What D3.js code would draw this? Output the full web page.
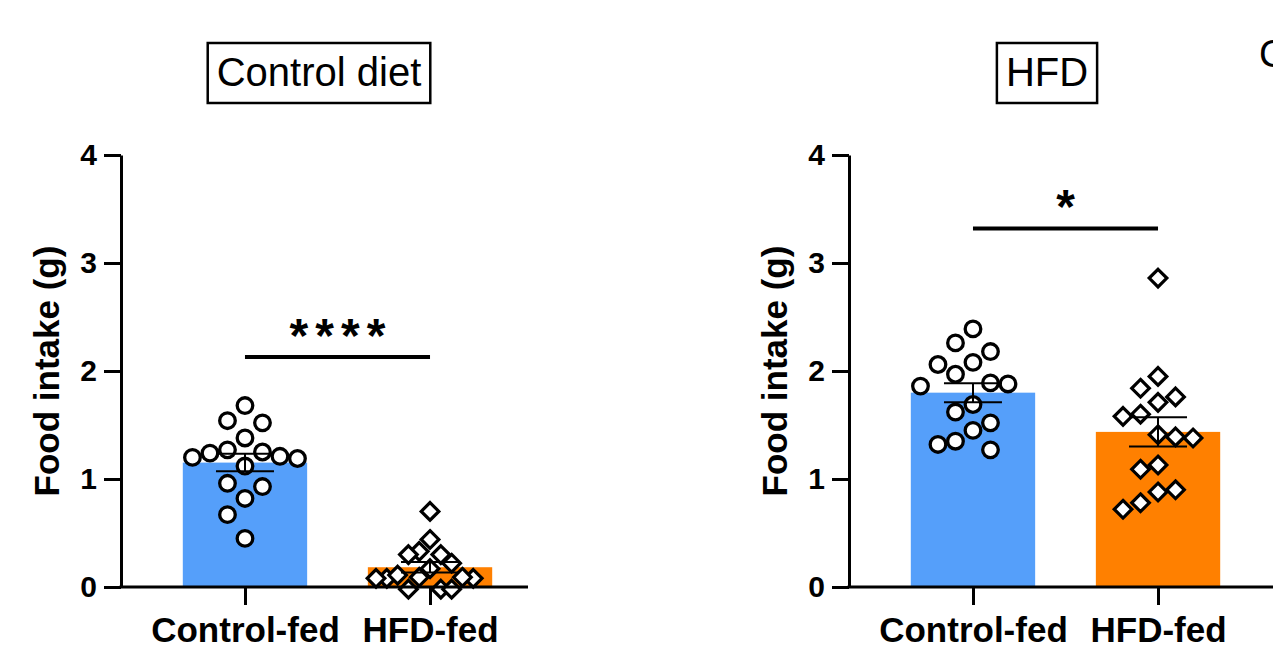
<!DOCTYPE html>
<html>
<head>
<meta charset="utf-8">
<script src="https://cdn.jsdelivr.net/npm/d3@7"></script>
<style>
  body { margin: 0; background: #fff; }
  svg { display: block; font-family: "Liberation Sans", Arial, sans-serif; }
</style>
</head>
<body>
<div id="chart"></div>
<script>
// Chart data
const groups = ['Control-fed', 'HFD-fed'];
const dietTitles = ['Control diet', 'HFD'];
const yTicks = [0, 1, 2, 3, 4];
const sigLabels = ['****', '*'];
const sigLevels = [2.13, 3.32];

// Food intake (g), one value per mouse
const ctrlDietControlFed = [1.68, 1.52, 1.54, 1.38, 1.27, 1.21, 1.24, 1.19, 1.20, 1.25, 1.12, 0.93, 0.96, 0.82, 0.67, 0.45];
const ctrlDietHfdFed = [0.70, 0.44, 0.30, 0.33, 0.30, 0.22, 0.17, 0.08, 0.09, 0.11, 0.08, 0.08, 0.09, -0.02, -0.02, -0.02];
const hfdDietControlFed = [2.39, 2.18, 2.26, 1.97, 2.06, 2.08, 1.86, 1.88, 1.89, 1.69, 1.62, 1.52, 1.45, 1.27, 1.32, 1.35];
const hfdDietHfdFed = [2.86, 1.95, 1.84, 1.76, 1.71, 1.58, 1.60, 1.38, 1.39, 1.41, 1.09, 1.13, 0.90, 0.88, 0.78, 0.72];

const panelData = [
  [ctrlDietControlFed, ctrlDietHfdFed],
  [hfdDietControlFed, hfdDietHfdFed]
];

const width = 1273;
const height = 649;
const barColors = ['#559ffa', '#ff8000'];
const panelLeft = [121, 849];
const panelWidth = 433;
const axisEnd = [528, 1290];

let svg = d3.select('#chart')
  .append('svg')
  .attr('width', width)
  .attr('height', height);

let y = d3.scaleLinear()
  .domain([0, 4])
  .range([587, 155]);

// Column scatter: each point goes in the nearest free column
function columns(values, minGap) {
  let placed = [];
  let slots = new Array(values.length);
  let order = d3.range(values.length).sort((a, b) => values[b] - values[a]);
  order.forEach((i) => {
    let py = y(values[i]);
    for (let n = 0; ; n++) {
      let s = n === 0 ? 0 : (n % 2 ? -(n + 1) / 2 : n / 2);
      let free = placed.every((p) => p.s !== s || Math.abs(p.y - py) >= minGap);
      if (free) {
        placed.push({ s: s, y: py });
        slots[i] = s;
        break;
      }
    }
  });
  return slots;
}

panelData.forEach((series, k) => {
  let x0 = panelLeft[k];
  let x = d3.scalePoint()
    .domain(groups)
    .range([x0, x0 + panelWidth])
    .padding(0.67);
  let barW = x.step() * 0.672;

  let g = svg.append('g');

  // Title box
  let title = g.append('text')
    .attr('x', x0 + 198)
    .attr('y', 86)
    .attr('text-anchor', 'middle')
    .style('font-size', '40px')
    .text(dietTitles[k]);
  let tb = title.node().getBBox();
  g.insert('rect', 'text')
    .attr('x', tb.x - 9)
    .attr('y', 43)
    .attr('width', tb.width + 18)
    .attr('height', 60)
    .attr('fill', 'none')
    .attr('stroke', '#000')
    .attr('stroke-width', 2.5);

  // Bars (mean)
  let stats = series.map((vals, i) => ({
    group: groups[i],
    mean: d3.mean(vals),
    sem: d3.deviation(vals) / Math.sqrt(vals.length)
  }));

  g.selectAll('.bar')
    .data(stats)
    .enter()
    .append('rect')
    .attr('class', 'bar')
    .attr('x', (d) => x(d.group) - barW / 2)
    .attr('y', (d) => y(d.mean))
    .attr('width', barW)
    .attr('height', (d) => y(0) - y(d.mean))
    .attr('fill', (d, i) => barColors[i]);

  // Individual points
  series.forEach((vals, i) => {
    let slots = columns(vals, 25);
    let maxSlot = d3.max(slots, (s) => Math.abs(s));
    let colW = Math.min(17.5, 54 / Math.max(maxSlot, 1));
    let pts = g.selectAll('.pt' + i)
      .data(vals)
      .enter();
    if (i === 0) {
      pts.append('circle')
        .attr('cx', (d, j) => x(groups[i]) + slots[j] * colW)
        .attr('cy', (d) => y(d))
        .attr('r', 7.8)
        .attr('fill', '#fff')
        .attr('stroke', '#000')
        .attr('stroke-width', 3.3);
    } else {
      let s = 8.8;
      pts.append('path')
        .attr('d', (d, j) => {
          let cx = x(groups[i]) + slots[j] * colW;
          let cy = y(d);
          return 'M' + cx + ',' + (cy - s) + 'L' + (cx + s) + ',' + cy + 'L' + cx + ',' + (cy + s) + 'L' + (cx - s) + ',' + cy + 'Z';
        })
        .attr('fill', '#fff')
        .attr('stroke', '#000')
        .attr('stroke-width', 3.2);
    }
  });

  // Error bars (SEM)
  let eb = g.selectAll('.err')
    .data(stats)
    .enter()
    .append('g')
    .attr('stroke', '#000')
    .attr('stroke-width', 2);
  eb.append('line')
    .attr('x1', (d) => x(d.group))
    .attr('x2', (d) => x(d.group))
    .attr('y1', (d) => y(d.mean - d.sem))
    .attr('y2', (d) => y(d.mean + d.sem));
  [-1, 1].forEach((sgn) => {
    eb.append('line')
      .attr('x1', (d) => x(d.group) - 29)
      .attr('x2', (d) => x(d.group) + 29)
      .attr('y1', (d) => y(d.mean + sgn * d.sem))
      .attr('y2', (d) => y(d.mean + sgn * d.sem));
  });

  // Axes
  let yAxis = g.append('g')
    .attr('transform', 'translate(' + x0 + ',0)')
    .call(d3.axisLeft(y).tickValues(yTicks).tickFormat(d3.format('d')).tickSize(17).tickSizeOuter(0).tickPadding(7));
  yAxis.selectAll('text')
    .style('font-size', '30px')
    .style('font-weight', 'bold')
    .style('font-family', '"Liberation Sans", Arial, sans-serif');

  let xAxis = g.append('g')
    .attr('transform', 'translate(0,' + y(0) + ')')
    .call(d3.axisBottom(x).tickSize(18).tickSizeOuter(0).tickPadding(12));
  xAxis.select('.domain').attr('d', 'M' + (x0 - 1.5) + ',0H' + axisEnd[k]);
  xAxis.selectAll('text')
    .style('font-size', '35px')
    .style('font-weight', 'bold')
    .style('font-family', '"Liberation Sans", Arial, sans-serif');

  [yAxis, xAxis].forEach((a) => {
    a.selectAll('.domain, .tick line')
      .attr('stroke', '#000')
      .attr('stroke-width', 3);
  });

  // Y axis title
  g.append('text')
    .attr('transform', 'translate(' + (x0 - 62) + ',' + y(2) + ') rotate(-90)')
    .attr('text-anchor', 'middle')
    .style('font-size', '35px')
    .style('font-weight', 'bold')
    .text('Food intake (g)');

  // Significance bar
  let sy = y(sigLevels[k]);
  g.append('line')
    .attr('x1', x(groups[0]))
    .attr('x2', x(groups[1]))
    .attr('y1', sy)
    .attr('y2', sy)
    .attr('stroke', '#000')
    .attr('stroke-width', 4);
  let star = g.append('text')
    .attr('x', (x(groups[0]) + x(groups[1])) / 2)
    .attr('y', sy - 5)
    .attr('text-anchor', 'middle')
    .style('font-size', '48px')
    .style('font-weight', 'bold')
    .text(sigLabels[k]);
  if (sigLabels[k].length > 1) {
    star.attr('textLength', 24 * sigLabels[k].length).attr('lengthAdjust', 'spacing');
  }
});

// Next panel letter, cut off at the edge
svg.append('text')
  .attr('x', 1259)
  .attr('y', 67)
  .style('font-size', '38px')
  .text('C');
</script>
</body>
</html>
